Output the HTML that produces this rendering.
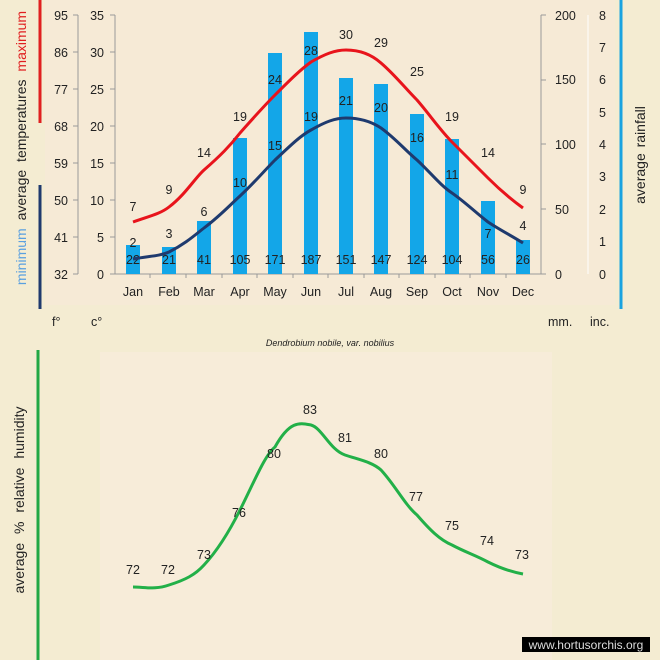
<!DOCTYPE html>
<html><head><meta charset="utf-8"><style>
html,body{margin:0;padding:0;}
body{width:660px;height:660px;background:#f4ecd2;overflow:hidden;}
svg{display:block;font-family:"Liberation Sans",sans-serif;}
</style></head><body>
<svg width="660" height="660" viewBox="0 0 660 660">
<rect x="0" y="0" width="660" height="660" fill="#f4ecd2"/>
<rect x="45" y="0" width="570" height="305" fill="#f6ead6"/>
<rect x="100" y="352" width="452" height="308" fill="#f7ecd9"/>
<line x1="40" y1="0" x2="40" y2="123" stroke="#e02020" stroke-width="3"/>
<line x1="40" y1="185" x2="40" y2="309" stroke="#1f3a6e" stroke-width="3"/>
<line x1="621" y1="0" x2="621" y2="309" stroke="#1aa3e0" stroke-width="3"/>
<line x1="38" y1="350" x2="38" y2="660" stroke="#22a845" stroke-width="3"/>
<text transform="translate(26,148) rotate(-90)" text-anchor="middle" font-size="14" fill="#222" word-spacing="4">
<tspan fill="#5aa0e0">minimum</tspan> average temperatures <tspan fill="#e02020">maximum</tspan></text>
<text transform="translate(645,155) rotate(-90)" text-anchor="middle" font-size="14" fill="#222" word-spacing="2">average rainfall</text>
<text transform="translate(24,500) rotate(-90)" text-anchor="middle" font-size="14" fill="#222" word-spacing="5">average % relative humidity</text>
<g stroke="#999" stroke-width="1" fill="none">
<line x1="78" y1="15" x2="78" y2="274"/>
<line x1="115" y1="15" x2="115" y2="274"/>
<line x1="115" y1="274" x2="541" y2="274"/>
<line x1="541" y1="15" x2="541" y2="274"/>
<line x1="588" y1="15" x2="588" y2="274" stroke="#fff"/>
</g>
<g stroke="#999" stroke-width="1">
<line x1="73" x2="78" y1="15" y2="15"/><line x1="73" x2="78" y1="52" y2="52"/><line x1="73" x2="78" y1="89" y2="89"/><line x1="73" x2="78" y1="126" y2="126"/><line x1="73" x2="78" y1="163" y2="163"/><line x1="73" x2="78" y1="200" y2="200"/><line x1="73" x2="78" y1="237" y2="237"/><line x1="73" x2="78" y1="274" y2="274"/>
<line x1="110" x2="115" y1="15" y2="15"/><line x1="110" x2="115" y1="52" y2="52"/><line x1="110" x2="115" y1="89" y2="89"/><line x1="110" x2="115" y1="126" y2="126"/><line x1="110" x2="115" y1="163" y2="163"/><line x1="110" x2="115" y1="200" y2="200"/><line x1="110" x2="115" y1="237" y2="237"/><line x1="110" x2="115" y1="274" y2="274"/>
<line x1="541" x2="546" y1="15" y2="15"/><line x1="541" x2="546" y1="80" y2="80"/><line x1="541" x2="546" y1="144" y2="144"/><line x1="541" x2="546" y1="209" y2="209"/><line x1="541" x2="546" y1="274" y2="274"/>
<line x1="150" x2="150" y1="274" y2="278"/><line x1="186" x2="186" y1="274" y2="278"/><line x1="222" x2="222" y1="274" y2="278"/><line x1="257" x2="257" y1="274" y2="278"/><line x1="293" x2="293" y1="274" y2="278"/><line x1="328" x2="328" y1="274" y2="278"/><line x1="364" x2="364" y1="274" y2="278"/><line x1="399" x2="399" y1="274" y2="278"/><line x1="435" x2="435" y1="274" y2="278"/><line x1="470" x2="470" y1="274" y2="278"/><line x1="506" x2="506" y1="274" y2="278"/>
</g>
<g font-size="12.5" fill="#222" text-anchor="end">
<text x="68" y="20">95</text><text x="68" y="57">86</text><text x="68" y="94">77</text><text x="68" y="131">68</text><text x="68" y="168">59</text><text x="68" y="205">50</text><text x="68" y="242">41</text><text x="68" y="279">32</text>
<text x="104" y="20">35</text><text x="104" y="57">30</text><text x="104" y="94">25</text><text x="104" y="131">20</text><text x="104" y="168">15</text><text x="104" y="205">10</text><text x="104" y="242">5</text><text x="104" y="279">0</text>
</g>
<g font-size="12.5" fill="#222">
<text x="555" y="20">200</text><text x="555" y="84">150</text><text x="555" y="149">100</text><text x="555" y="214">50</text><text x="555" y="279">0</text>
<text x="599" y="20">8</text><text x="599" y="52">7</text><text x="599" y="84">6</text><text x="599" y="117">5</text><text x="599" y="149">4</text><text x="599" y="181">3</text><text x="599" y="214">2</text><text x="599" y="246">1</text><text x="599" y="279">0</text>
<text x="52" y="326">f°</text><text x="91" y="326">c°</text><text x="548" y="326">mm.</text><text x="590" y="326">inc.</text>
</g>
<g fill="#13a6e8">
<rect x="126" y="245" width="14" height="29"/><rect x="162" y="247" width="14" height="27"/><rect x="197" y="221" width="14" height="53"/><rect x="233" y="138" width="14" height="136"/><rect x="268" y="53" width="14" height="221"/><rect x="304" y="32" width="14" height="242"/><rect x="339" y="78" width="14" height="196"/><rect x="374" y="84" width="14" height="190"/><rect x="410" y="114" width="14" height="160"/><rect x="445" y="139" width="14" height="135"/><rect x="481" y="201" width="14" height="73"/><rect x="516" y="240" width="14" height="34"/>
</g>
<g font-size="12.5" fill="#222" text-anchor="middle">
<text x="133" y="264">22</text><text x="169" y="264">21</text><text x="204" y="264">41</text><text x="240" y="264">105</text><text x="275" y="264">171</text><text x="311" y="264">187</text><text x="346" y="264">151</text><text x="381" y="264">147</text><text x="417" y="264">124</text><text x="452" y="264">104</text><text x="488" y="264">56</text><text x="523" y="264">26</text>
<text x="133" y="296">Jan</text><text x="169" y="296">Feb</text><text x="204" y="296">Mar</text><text x="240" y="296">Apr</text><text x="275" y="296">May</text><text x="311" y="296">Jun</text><text x="346" y="296">Jul</text><text x="381" y="296">Aug</text><text x="417" y="296">Sep</text><text x="452" y="296">Oct</text><text x="488" y="296">Nov</text><text x="523" y="296">Dec</text>
</g>
<path d="M133,222 C150,216 160,214 169,207 C185,195 195,178 204,170 C220,156 230,146 240,133 C255,116 265,105 275,95 C290,80 300,70 311,62 C325,54 335,50 346,50 C360,50 372,55 381,63 C395,75 405,88 417,100 C430,115 440,130 452,142 C465,155 475,165 488,178 C500,190 512,200 523,208" fill="none" stroke="#e8141c" stroke-width="3"/>
<path d="M133,259 C150,256 160,256 169,252 C185,244 195,235 204,228 C220,216 230,205 240,196 C255,182 265,170 275,160 C290,146 300,136 311,130 C325,122 335,118 346,118 C360,118 372,122 381,128 C395,138 405,150 417,160 C430,172 440,185 452,193 C465,202 475,212 488,222 C500,230 512,236 523,243" fill="none" stroke="#1f3a6e" stroke-width="3"/>
<g font-size="12.5" fill="#222" text-anchor="middle">
<text x="133" y="211">7</text><text x="169" y="194">9</text><text x="204" y="157">14</text><text x="240" y="121">19</text><text x="275" y="84">24</text><text x="311" y="55">28</text><text x="346" y="39">30</text><text x="381" y="47">29</text><text x="417" y="76">25</text><text x="452" y="121">19</text><text x="488" y="157">14</text><text x="523" y="194">9</text>
<text x="133" y="247">2</text><text x="169" y="238">3</text><text x="204" y="216">6</text><text x="240" y="187">10</text><text x="275" y="150">15</text><text x="311" y="121">19</text><text x="346" y="105">21</text><text x="381" y="112">20</text><text x="417" y="142">16</text><text x="452" y="179">11</text><text x="488" y="238">7</text><text x="523" y="230">4</text>
</g>
<text x="330" y="346" text-anchor="middle" font-size="9" font-style="italic" fill="#222">Dendrobium  nobile, var. nobilius</text>
<path d="M133,587 C145,587 155,590 169,585 C185,580 195,575 204,565 C218,550 230,530 240,510 C255,480 265,455 275,447 C290,420 300,423 311,425 C322,428 330,450 345,455 C360,460 372,462 381,470 C395,485 405,505 417,515 C430,530 440,540 452,545 C465,552 475,555 488,562 C500,568 512,572 523,574" fill="none" stroke="#22b048" stroke-width="3"/>
<g font-size="12.5" fill="#222" text-anchor="middle">
<text x="133" y="574">72</text><text x="168" y="574">72</text><text x="204" y="559">73</text><text x="239" y="517">76</text><text x="274" y="458">80</text><text x="310" y="414">83</text><text x="345" y="442">81</text><text x="381" y="458">80</text><text x="416" y="501">77</text><text x="452" y="530">75</text><text x="487" y="545">74</text><text x="522" y="559">73</text>
</g>
<rect x="522" y="637" width="128" height="15" fill="#000"/>
<text x="586" y="649" text-anchor="middle" font-size="12" fill="#ddd">www.hortusorchis.org</text>
</svg>
</body></html>
